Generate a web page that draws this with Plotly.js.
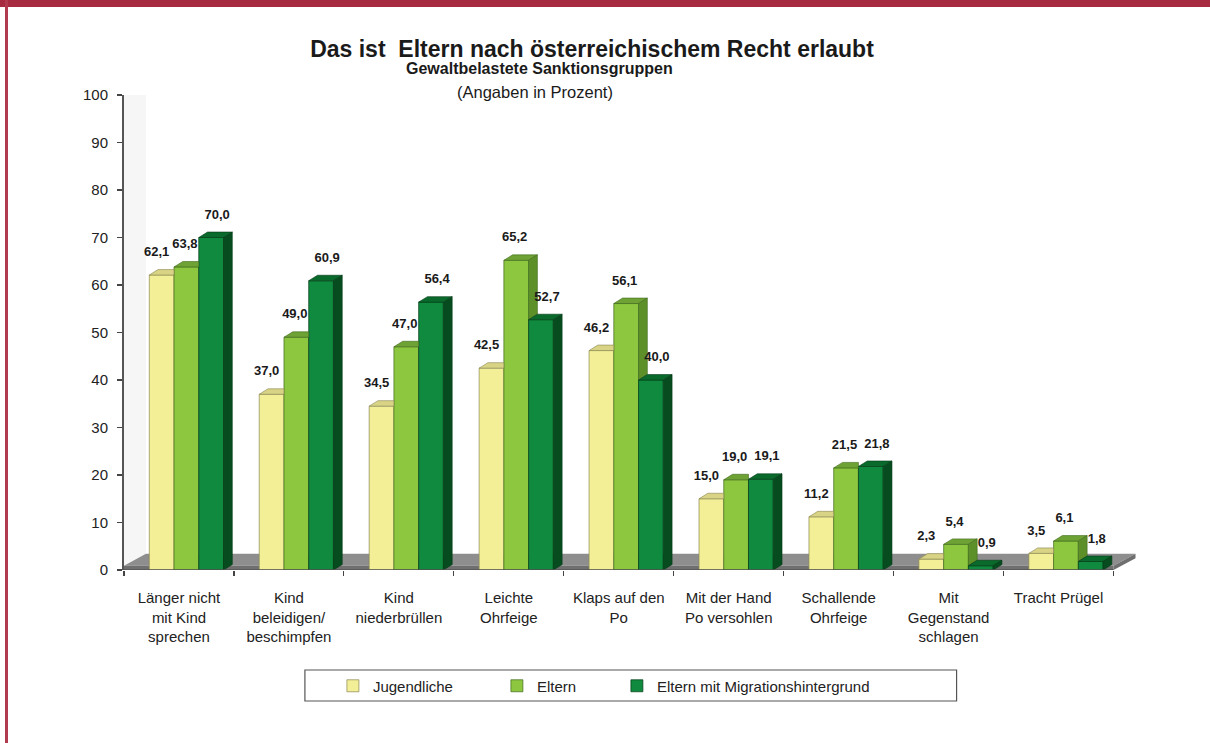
<!DOCTYPE html>
<html>
<head>
<meta charset="utf-8">
<script src="https://cdn.plot.ly/plotly-3.0.1.min.js"></script>
<style>
  html, body { margin: 0; padding: 0; background: #ffffff; }
  #chart { position: absolute; left: 0; top: 0; width: 1210px; height: 743px; }
  #bandTop { position: absolute; left: 0; top: 0; width: 1210px; height: 7px; background: #a72b40; }
  #bandLeft { position: absolute; left: 5px; top: 0; width: 3px; height: 743px; background: #b03a4e; }
</style>
</head>
<body>
<div id="chart"></div>
<div id="bandTop"></div>
<div id="bandLeft"></div>
<script>
// ---- data ----
const categories = [
  "Länger nicht<br>mit Kind<br>sprechen",
  "Kind<br>beleidigen/<br>beschimpfen",
  "Kind<br>niederbrüllen",
  "Leichte<br>Ohrfeige",
  "Klaps auf den<br>Po",
  "Mit der Hand<br>Po versohlen",
  "Schallende<br>Ohrfeige",
  "Mit<br>Gegenstand<br>schlagen",
  "Tracht Prügel"
];
const seriesNames = ["Jugendliche", "Eltern", "Eltern mit Migrationshintergrund"];
const jugendliche = [62.1, 37.0, 34.5, 42.5, 46.2, 15.0, 11.2, 2.3, 3.5];
const eltern      = [63.8, 49.0, 47.0, 65.2, 56.1, 19.0, 21.5, 5.4, 6.1];
const migration   = [70.0, 60.9, 56.4, 52.7, 40.0, 19.1, 21.8, 0.9, 1.8];
const yTicks = [0, 10, 20, 30, 40, 50, 60, 70, 80, 90, 100];

// ---- styling / geometry ----
const FRONT = ["#f3ef97", "#8dc63f", "#0f8a3e"];
const TOP   = ["#d8d385", "#6ea234", "#0a6a2c"];
const SIDE  = ["#c2bd6c", "#5d9029", "#064c1e"];
const EDGE  = ["#8a8650", "#3f6a1c", "#033a16"];
const LABEL_SHIFT = [-0.045, -0.014, 0.055];
const BAR_W = 0.225, GROUP_OFF = -0.27, DX = 0.08, DY = 1.15, LABEL_PAD = 3.5;
const FONT = "Liberation Sans, Arial, sans-serif";

const allSeries = [jugendliche, eltern, migration];
const idx = categories.map((_, i) => i);
const fmt = v => v.toFixed(1).replace(".", ",");

const barTraces = [], faceTraces = [], labelX = [], labelY = [], labelT = [];
allSeries.forEach((vals, s) => {
  const off = GROUP_OFF + s * BAR_W;
  const tr = {
    type: "bar", name: seriesNames[s], x: idx, y: vals, width: BAR_W, offset: off,
    marker: { color: FRONT[s], line: { color: EDGE[s], width: 0.7 } },
    hoverinfo: "name+y"
  };
  if (s === 0) tr.legendwidth = 119;
  if (s === 1) tr.legendwidth = 75;
  barTraces.push(tr);
  const next = s < 2 ? allSeries[s + 1] : null;
  const tx = [], ty = [], sx = [], sy = [];
  vals.forEach((v, i) => {
    const x0 = i + off, x1 = x0 + BAR_W;
    const vn = next ? next[i] : -Infinity;
    if (vn > v) { tx.push(x0, x1, x1, x0 + DX, x0, null); }
    else { tx.push(x0, x1, x1 + DX, x0 + DX, x0, null); }
    ty.push(v, v, v + DY, v + DY, v, null);
    const lo = next ? next[i] : 0;
    if (v > lo) {
      sx.push(x1, x1, x1 + DX, x1 + DX, x1, null);
      sy.push(lo, v, v + DY, lo + DY, lo, null);
    }
    labelX.push(i + off + BAR_W / 2 + LABEL_SHIFT[s]);
    labelY.push(v + DY + LABEL_PAD);
    labelT.push(fmt(v));
  });
  faceTraces.push({
    type: "scatter", mode: "lines", x: tx, y: ty, fill: "toself", fillcolor: TOP[s],
    line: { color: EDGE[s], width: 0.6 }, hoverinfo: "skip", showlegend: false
  });
  faceTraces.push({
    type: "scatter", mode: "lines", x: sx, y: sy, fill: "toself", fillcolor: SIDE[s],
    line: { color: EDGE[s], width: 0.6 }, hoverinfo: "skip", showlegend: false
  });
});

const labelTrace = {
  type: "scatter", mode: "text", x: labelX, y: labelY, text: labelT,
  textposition: "middle center", cliponaxis: false,
  textfont: { family: FONT, size: 13, color: "#1a1a1a", weight: "bold" },
  hoverinfo: "skip", showlegend: false
};

// floor & walls (decor)
const FDX = 0.2, FDY = 3.4;
const shapes = [
  { type: "path", layer: "below", xref: "x", yref: "y",
    path: `M -0.5 0 L -0.5 100 L ${-0.5 + FDX} 100 L ${-0.5 + FDX} ${FDY} Z`,
    fillcolor: "#f6f6f6", line: { width: 0 } },
  { type: "path", layer: "below", xref: "x", yref: "y",
    path: `M -0.5 0.9 L 8.5 0.9 L ${8.5 + FDX} ${FDY} L ${-0.5 + FDX} ${FDY} Z`,
    fillcolor: "#8e8e8e", line: { width: 0 } },
  { type: "path", layer: "below", xref: "x", yref: "y",
    path: `M -0.5 0 L 8.5 0 L 8.5 0.9 L -0.5 0.9 Z`,
    fillcolor: "#6f6f6f", line: { width: 0 } },
  { type: "path", layer: "below", xref: "x", yref: "y",
    path: `M 8.5 0 L ${8.5 + FDX} ${FDY - 0.9} L ${8.5 + FDX} ${FDY} L 8.5 0.9 Z`,
    fillcolor: "#6f6f6f", line: { width: 0 } },
  { type: "line", layer: "above", xref: "x", yref: "y", x0: -0.5, x1: 8.5, y0: 0, y1: 0,
    line: { color: "#555555", width: 1.5 } },
  // legend box
  { type: "rect", xref: "paper", yref: "paper",
    x0: (305 - 124) / 1017.5, x1: (957 - 124) / 1017.5,
    y0: (570 - 670) / 475, y1: (570 - 701) / 475,
    line: { color: "#555555", width: 1.2 }, fillcolor: "rgba(0,0,0,0)" }
];

const layout = {
  width: 1210, height: 743,
  margin: { l: 124, r: 68.5, t: 95, b: 173 },
  paper_bgcolor: "#ffffff", plot_bgcolor: "rgba(0,0,0,0)",
  font: { family: FONT, color: "#222222", size: 15 },
  barmode: "overlay",
  showlegend: true,
  title: {
    text: "Das ist  Eltern nach österreichischem Recht erlaubt",
    font: { family: FONT, size: 23, weight: "bold", color: "#1a1a1a" },
    x: 592 / 1210, xanchor: "center", xref: "container",
    y: 1 - 49 / 743, yanchor: "middle", yref: "container"
  },
  annotations: [
    { text: "Gewaltbelastete Sanktionsgruppen", xref: "paper", yref: "paper",
      x: (540 - 124) / 1017.5, y: (570 - 69) / 475, xanchor: "center", yanchor: "middle",
      showarrow: false, font: { family: FONT, size: 16, weight: "bold", color: "#1a1a1a" } },
    { text: "(Angaben in Prozent)", xref: "paper", yref: "paper",
      x: (535 - 124) / 1017.5, y: (570 - 92) / 475, xanchor: "center", yanchor: "middle",
      showarrow: false, font: { family: FONT, size: 16.5, color: "#1a1a1a" } }
  ],
  xaxis: {
    range: [-0.5, 8.5 + 0.25], fixedrange: true,
    tickmode: "array", tickvals: idx, ticktext: categories,
    ticks: "", showline: false, showgrid: false, zeroline: false,
    tickfont: { family: FONT, size: 15, color: "#222222" },
    ticklabelstandoff: 17,
    minor: { tickmode: "linear", tick0: -0.5, dtick: 1, ticks: "outside", ticklen: 5,
             tickcolor: "#444444", tickwidth: 1.2, showgrid: false }
  },
  yaxis: {
    range: [0, 100], fixedrange: true,
    tickmode: "array", tickvals: yTicks, ticktext: yTicks.map(String),
    ticks: "outside", ticklen: 5, tickcolor: "#444444", tickwidth: 1.2,
    showline: true, linecolor: "#555555", linewidth: 2,
    showgrid: false, zeroline: false,
    tickfont: { family: FONT, size: 15, color: "#222222" },
    ticklabelstandoff: 6
  },
  legend: {
    orientation: "h", x: (333 - 124) / 1017.5, xanchor: "left",
    y: (570 - 686) / 475, yanchor: "middle",
    bgcolor: "rgba(0,0,0,0)", borderwidth: 0,
    font: { family: FONT, size: 15, color: "#222222" },
    itemwidth: 30
  },
  shapes: shapes
};

Plotly.newPlot("chart", [...barTraces, ...faceTraces, labelTrace], layout,
  { displayModeBar: false, staticPlot: true });
</script>
</body>
</html>
